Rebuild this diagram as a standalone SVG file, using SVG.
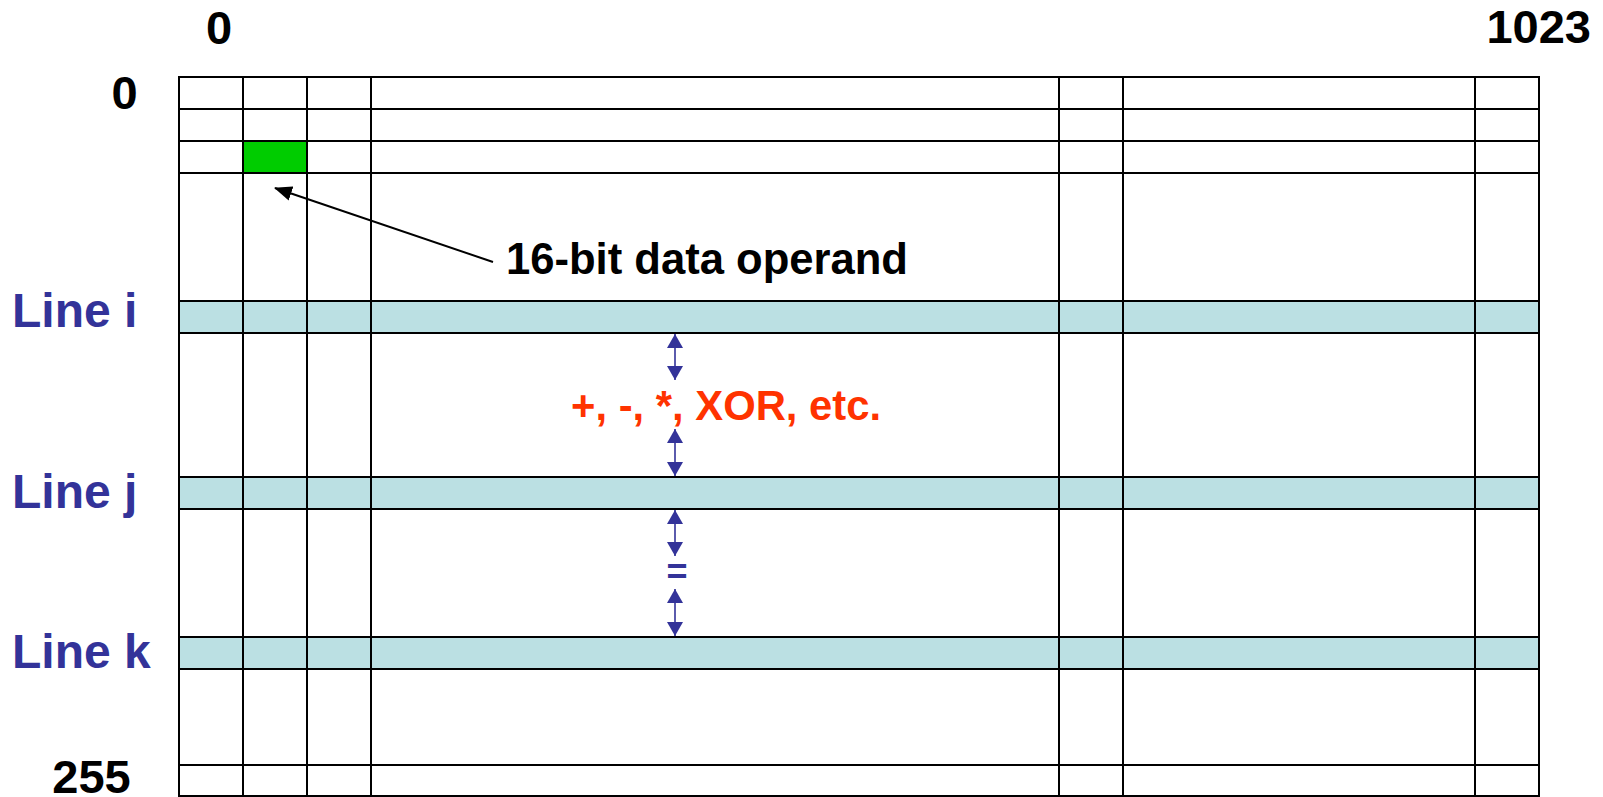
<svg xmlns="http://www.w3.org/2000/svg" width="1603" height="797" viewBox="0 0 1603 797">
  <style>
    text { font-family: "Liberation Sans", Arial, sans-serif; font-weight: bold; }
    .num { font-size: 47px; fill: #000; }
    .line-label { font-size: 48px; fill: #333399; }
    .grid line { stroke: #000; stroke-width: 2; }
    .band { fill: #BBE0E3; }
    .op { font-size: 41.8px; fill: #FF3300; }
    .eq { font-size: 36px; fill: #333399; }
    .blue-arrow { stroke: #333399; stroke-width: 1.6; fill: none; marker-start: url(#blueHead); marker-end: url(#blueHead); }
  </style>
  <defs>
    <marker id="blueHead" markerUnits="userSpaceOnUse" viewBox="0 0 14 16" markerWidth="14" markerHeight="16" refX="14" refY="8" orient="auto-start-reverse">
      <path d="M0,0 L14,8 L0,16 z" fill="#333399"/>
    </marker>
    <marker id="blackHead" markerUnits="userSpaceOnUse" viewBox="0 0 18 15" markerWidth="18" markerHeight="15" refX="17" refY="7.5" orient="auto">
      <path d="M0,0 L18,7.5 L0,15 z" fill="#000"/>
    </marker>
  </defs>

  <!-- column / row index labels -->
  <g id="col-labels">
    <text class="num" x="219" y="44" text-anchor="middle">0</text>
    <text class="num" x="1591" y="43" text-anchor="end">1023</text>
  </g>
  <g id="row-labels">
    <text class="num" x="124.5" y="109" text-anchor="middle">0</text>
    <text class="num" x="91.5" y="793" text-anchor="middle">255</text>
  </g>

  <!-- highlighted memory lines -->
  <g id="line-i">
    <rect class="band" x="179" y="301" width="1360" height="32"/>
    <text class="line-label" x="12" y="327">Line i</text>
  </g>
  <g id="line-j">
    <rect class="band" x="179" y="477" width="1360" height="32"/>
    <text class="line-label" x="12" y="508">Line j</text>
  </g>
  <g id="line-k">
    <rect class="band" x="179" y="637" width="1360" height="32"/>
    <text class="line-label" x="12" y="668">Line k</text>
  </g>

  <!-- single data operand cell -->
  <g id="operand-cell">
    <rect x="243" y="141" width="64" height="32" fill="#00CC00"/>
  </g>

  <!-- memory array grid -->
  <g id="grid" class="grid">
    <line x1="178" y1="77" x2="1540" y2="77"/>
    <line x1="178" y1="109" x2="1540" y2="109"/>
    <line x1="178" y1="141" x2="1540" y2="141"/>
    <line x1="178" y1="173" x2="1540" y2="173"/>
    <line x1="178" y1="301" x2="1540" y2="301"/>
    <line x1="178" y1="333" x2="1540" y2="333"/>
    <line x1="178" y1="477" x2="1540" y2="477"/>
    <line x1="178" y1="509" x2="1540" y2="509"/>
    <line x1="178" y1="637" x2="1540" y2="637"/>
    <line x1="178" y1="669" x2="1540" y2="669"/>
    <line x1="178" y1="765" x2="1540" y2="765"/>
    <line x1="178" y1="796" x2="1540" y2="796"/>
    <line x1="179" y1="76" x2="179" y2="797"/>
    <line x1="243" y1="76" x2="243" y2="797"/>
    <line x1="307" y1="76" x2="307" y2="797"/>
    <line x1="371" y1="76" x2="371" y2="797"/>
    <line x1="1059" y1="76" x2="1059" y2="797"/>
    <line x1="1123" y1="76" x2="1123" y2="797"/>
    <line x1="1475" y1="76" x2="1475" y2="797"/>
    <line x1="1539" y1="76" x2="1539" y2="797"/>
  </g>

  <!-- operand callout -->
  <g id="operand-label">
    <text x="908" y="274" font-size="43.6" text-anchor="end" fill="#000">16-bit data operand</text>
  </g>

  <!-- operation labels -->
  <g id="op-label">
    <text class="op" x="571" y="420">+, -, *, XOR, etc.</text>
  </g>
  <g id="eq-label">
    <text class="eq" x="677" y="584" text-anchor="middle">=</text>
  </g>

  <!-- connectors -->
  <g id="connectors">
    <line x1="493" y1="262" x2="275" y2="188" stroke="#000" stroke-width="2" marker-end="url(#blackHead)"/>
    <line class="blue-arrow" x1="675" y1="334" x2="675" y2="380"/>
    <line class="blue-arrow" x1="675" y1="429" x2="675" y2="476"/>
    <line class="blue-arrow" x1="675" y1="510" x2="675" y2="556"/>
    <line class="blue-arrow" x1="675" y1="589" x2="675" y2="636"/>
  </g>
</svg>
